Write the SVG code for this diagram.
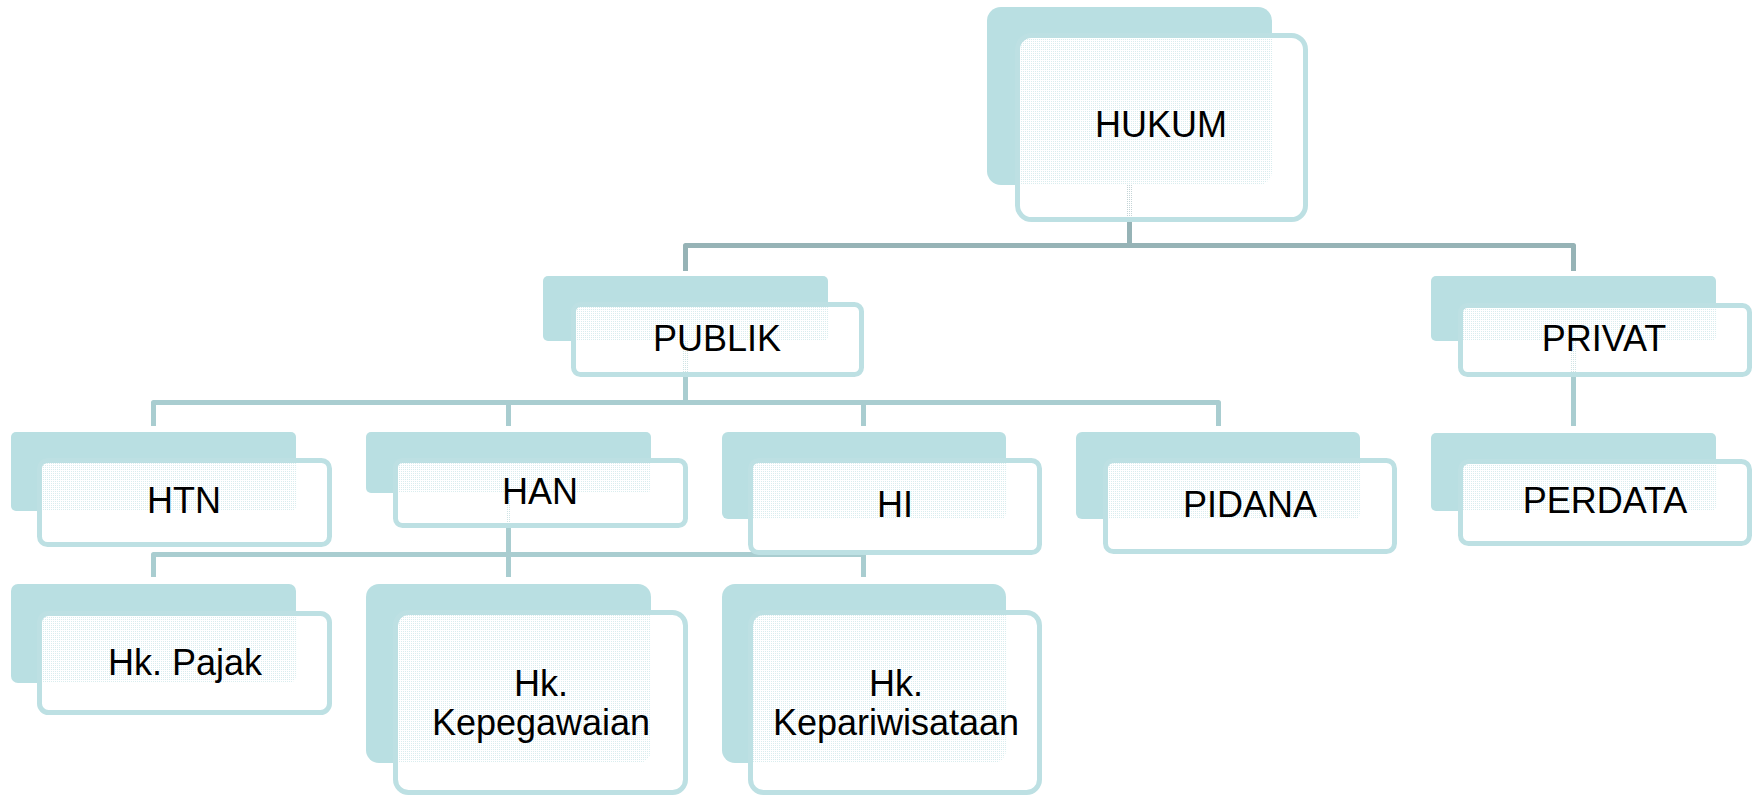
<svg xmlns="http://www.w3.org/2000/svg" width="1756" height="796" viewBox="0 0 1756 796">
  <defs>
    <pattern id="dots" width="2" height="2" patternUnits="userSpaceOnUse">
      <path d="M0,0h2v2h-2z M1,1v1h1v-1z" fill="#ffffff" fill-rule="evenodd"/>
      <rect x="1" y="1" width="1" height="1" fill="#ffffff" fill-opacity="0.45"/>
    </pattern>
  </defs>
  <style>
    .back { fill: #b9dfe2; }
    .front { fill: url(#dots); stroke: #bde0e3; stroke-width: 5; }
    .lbl { font-family: "Liberation Sans", Arial, sans-serif; font-size: 36px; fill: #000000; text-anchor: middle; }
    .c1 { fill: none; stroke: #96b3b6; stroke-width: 5; stroke-linejoin: round; }
    .c2 { fill: none; stroke: #a9cdd0; stroke-width: 5; stroke-linejoin: round; }
  </style>
  <rect width="1756" height="796" fill="#ffffff"/>

  <g id="connectors">
    <path class="c1" d="M1129.5,183 V245.5"/>
    <path class="c1" d="M685.5,271 V245.5 H1573.5 V271"/>
    <path class="c2" d="M685.5,341 V402.5"/>
    <path class="c2" d="M153.5,426 V402.5 H1218.5 V426"/>
    <path class="c2" d="M508.5,402.5 V426"/>
    <path class="c2" d="M863.5,402.5 V426"/>
    <path class="c2" d="M508.5,493 V554.5"/>
    <path class="c2" d="M153.5,577 V554.5 H863.5 V577"/>
    <path class="c2" d="M508.5,554.5 V577"/>
    <path class="c2" d="M1573.5,341 V426"/>
  </g>

  <g id="node-hukum">
    <rect class="back" x="987" y="7" width="285" height="178" rx="14"/>
    <rect class="front" x="1017.5" y="35.5" width="288" height="184" rx="14"/>
    <text class="lbl" x="1161" y="137">HUKUM</text>
  </g>

  <g id="node-publik">
    <rect class="back" x="543" y="276" width="285" height="65" rx="5"/>
    <rect class="front" x="573.5" y="304.5" width="288" height="70" rx="7"/>
    <text class="lbl" x="717" y="351">PUBLIK</text>
  </g>

  <g id="node-privat">
    <rect class="back" x="1431" y="276" width="285" height="65" rx="5"/>
    <rect class="front" x="1460.5" y="305.5" width="289" height="69" rx="7"/>
    <text class="lbl" x="1604" y="351">PRIVAT</text>
  </g>

  <g id="node-htn">
    <rect class="back" x="11" y="432" width="285" height="79" rx="5"/>
    <rect class="front" x="39.5" y="460.5" width="290" height="84" rx="8"/>
    <text class="lbl" x="184" y="513">HTN</text>
  </g>

  <g id="node-han">
    <rect class="back" x="366" y="432" width="285" height="61" rx="5"/>
    <rect class="front" x="395.5" y="460.5" width="290" height="65" rx="7"/>
    <text class="lbl" x="540" y="504">HAN</text>
  </g>

  <g id="node-hi">
    <rect class="back" x="722" y="432" width="284" height="87" rx="6"/>
    <rect class="front" x="750.5" y="460.5" width="289" height="92" rx="8"/>
    <text class="lbl" x="895" y="517">HI</text>
  </g>

  <g id="node-pidana">
    <rect class="back" x="1076" y="432" width="284" height="87" rx="6"/>
    <rect class="front" x="1105.5" y="460.5" width="289" height="91" rx="8"/>
    <text class="lbl" x="1250" y="517">PIDANA</text>
  </g>

  <g id="node-perdata">
    <rect class="back" x="1431" y="433" width="285" height="78" rx="5"/>
    <rect class="front" x="1460.5" y="461.5" width="289" height="82" rx="8"/>
    <text class="lbl" x="1605" y="513">PERDATA</text>
  </g>

  <g id="node-pajak">
    <rect class="back" x="11" y="584" width="285" height="99" rx="7"/>
    <rect class="front" x="39.5" y="613.5" width="290" height="99" rx="9"/>
    <text class="lbl" x="185" y="675">Hk. Pajak</text>
  </g>

  <g id="node-kepegawaian">
    <rect class="back" x="366" y="584" width="285" height="179" rx="13"/>
    <rect class="front" x="395.5" y="612.5" width="290" height="180" rx="13"/>
    <text class="lbl" x="541" y="696">Hk.</text>
    <text class="lbl" x="541" y="735">Kepegawaian</text>
  </g>

  <g id="node-kepariwisataan">
    <rect class="back" x="722" y="584" width="284" height="179" rx="13"/>
    <rect class="front" x="750.5" y="612.5" width="289" height="180" rx="13"/>
    <text class="lbl" x="896" y="696">Hk.</text>
    <text class="lbl" x="896" y="735">Kepariwisataan</text>
  </g>
</svg>
